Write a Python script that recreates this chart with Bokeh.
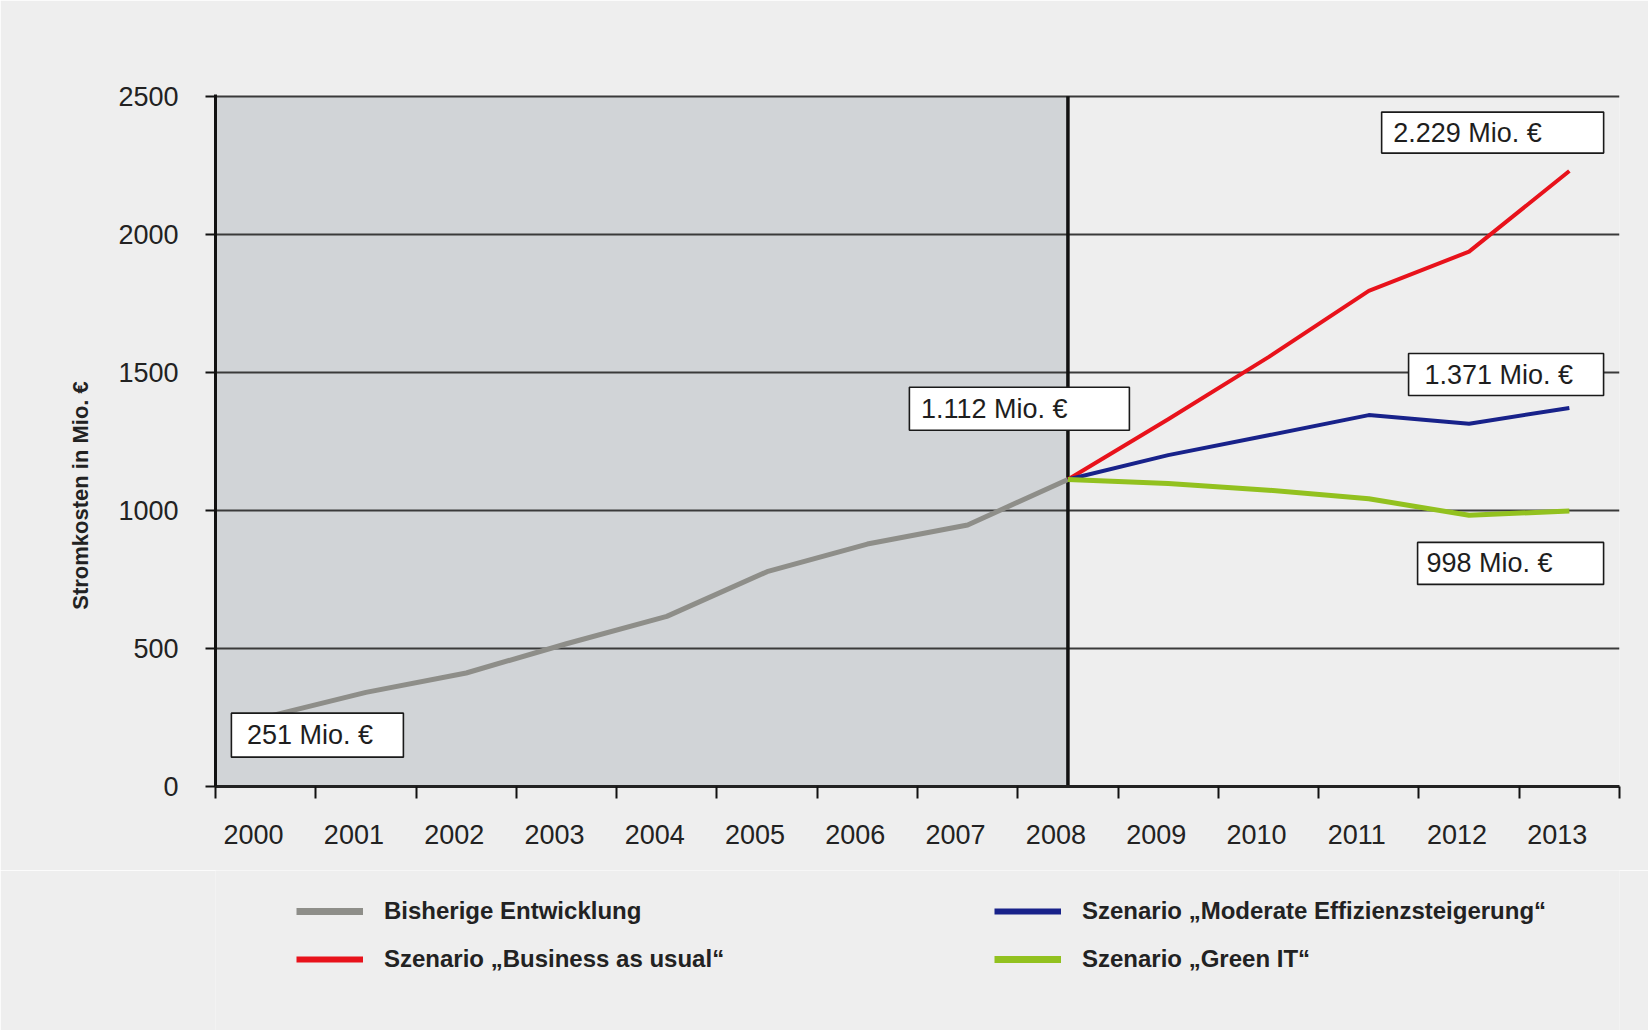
from bokeh.plotting import figure
from bokeh.layouts import column
from bokeh.models import FixedTicker, Legend, LegendItem, Range1d
from bokeh.core.properties import value
from bokeh.embed import file_html
from bokeh.resources import INLINE

# ---------------- data ----------------
years = [2000, 2001, 2002, 2003, 2004, 2005, 2006, 2007, 2008, 2009, 2010, 2011, 2012, 2013]
hist_years = [2000, 2001, 2002, 2003, 2004, 2005, 2006, 2007, 2008]
hist_values = [251, 341, 411, 517, 616, 778, 878, 947, 1112]
scen_years = [2008, 2009, 2010, 2011, 2012, 2013]
bau_values = [1112, 1330, 1555, 1795, 1937, 2229]
moderate_values = [1112, 1200, 1272, 1345, 1314, 1371]
green_values = [1112, 1097, 1073, 1042, 982, 998]
y_ticks = [0, 500, 1000, 1500, 2000, 2500]
tick_labels = [str(y) for y in years]
series_names = [
    "Bisherige Entwicklung",
    "Szenario \u201eBusiness as usual\u201c",
    "Szenario \u201eModerate Effizienzsteigerung\u201c",
    "Szenario \u201eGreen IT\u201c",
]
callout_texts = ["251 Mio. \u20ac", "1.112 Mio. \u20ac", "2.229 Mio. \u20ac", "1.371 Mio. \u20ac", "998 Mio. \u20ac"]
y_title = "Stromkosten in Mio. \u20ac"

# ---------------- layout / style ----------------
FONT = "Liberation Sans"
BG = "#eeeeee"
SHADE = "#d1d4d7"
C_HIST = "#8e8e89"
C_BAU = "#e8121b"
C_MOD = "#18228a"
C_GREEN = "#92c11f"
W = 1648
H_MAIN = 870
H_LEG = 1030 - H_MAIN

# callout boxes: centre (data units), size (px), text start (data x)
box_cx = [2000.516, 2007.516, 2012.235, 2012.369, 2012.414]
box_cy = [186, 1368, 2368, 1492, 808]
box_w = [172, 220, 222, 195, 186]
box_h = [44, 43, 41, 42, 42]
text_x = [1999.814, 2006.535, 2011.243, 2011.556, 2011.576]

x0 = years[0] - 0.5
x1 = years[-1] + 0.5

p = figure(
    width=W, height=H_MAIN,
    x_range=Range1d(x0, x1), y_range=Range1d(y_ticks[0], y_ticks[-1] + 6),
    output_backend="svg", toolbar_location=None,
    min_border_left=215, min_border_right=29, min_border_top=94, min_border_bottom=84,
    background_fill_color=BG, border_fill_color=BG, outline_line_color=None,
)

# shaded historical area
p.quad(left=[x0], right=[hist_years[-1]], bottom=[y_ticks[0]], top=[y_ticks[-1]],
       fill_color=SHADE, line_color=None, level="image")

# grid
p.xgrid.visible = False
p.ygrid.ticker = FixedTicker(ticks=y_ticks[1:])
p.ygrid.grid_line_color = "#3a3a3a"
p.ygrid.grid_line_width = 2

# vertical divider at 2008
p.segment(x0=[hist_years[-1]], y0=[y_ticks[0]], x1=[hist_years[-1]], y1=[y_ticks[-1]],
          line_color="#111111", line_width=3.5)

# series
line_styles = [(C_HIST, 5), (C_BAU, 4), (C_MOD, 4), (C_GREEN, 5)]
p.line(hist_years, hist_values, line_color=C_HIST, line_width=5, line_join="round")
p.line(scen_years, bau_values, line_color=C_BAU, line_width=4, line_join="round")
p.line(scen_years, moderate_values, line_color=C_MOD, line_width=4, line_join="round")
p.line(scen_years, green_values, line_color=C_GREEN, line_width=5, line_join="round")

# callout boxes
p.rect(x=box_cx, y=box_cy, width=box_w, height=box_h, width_units="screen", height_units="screen",
       fill_color="white", line_color="#1a1a1a", line_width=1.6)
p.text(x=text_x, y=box_cy, text=callout_texts, text_font=value(FONT), text_font_size="27px",
       text_baseline="middle", text_align="left", text_color="#1e1e1e")

# axes
p.yaxis.ticker = FixedTicker(ticks=y_ticks)
p.yaxis.major_tick_out = 10
p.yaxis.major_tick_in = 0
p.yaxis.minor_tick_out = 0
p.yaxis.minor_tick_in = 0
p.yaxis.major_tick_line_width = 2
p.yaxis.major_tick_line_color = "#111111"
p.yaxis.axis_line_width = 3
p.yaxis.axis_line_color = "#111111"
p.yaxis.major_label_standoff = 27
p.yaxis.major_label_text_font = FONT
p.yaxis.major_label_text_font_size = "27px"
p.yaxis.major_label_text_color = "#222222"
# title shifted downwards with trailing non-breaking spaces
p.yaxis.axis_label = y_title + "\u00a0" * 18
p.yaxis.axis_label_text_font = FONT
p.yaxis.axis_label_text_font_style = "bold"
p.yaxis.axis_label_text_font_size = "22px"
p.yaxis.axis_label_text_color = "#222222"
p.yaxis.axis_label_standoff = 22

label_pos = [y - 0.12 for y in years]
p.xaxis.ticker = FixedTicker(ticks=label_pos, minor_ticks=[y - 0.5 for y in years] + [x1])
p.xaxis.major_label_overrides = {pos: lab for pos, lab in zip(label_pos, tick_labels)}
p.xaxis.major_tick_out = 0
p.xaxis.major_tick_in = 0
p.xaxis.minor_tick_out = 12
p.xaxis.minor_tick_in = 0
p.xaxis.minor_tick_line_width = 2
p.xaxis.minor_tick_line_color = "#111111"
p.xaxis.axis_line_width = 3
p.xaxis.axis_line_color = "#222222"
p.xaxis.major_label_standoff = 26
p.xaxis.major_label_text_font = FONT
p.xaxis.major_label_text_font_size = "27px"
p.xaxis.major_label_text_color = "#222222"

# ---------------- legend strip ----------------
pl = figure(width=W, height=H_LEG, x_range=Range1d(0, 1), y_range=Range1d(0, 1),
            output_backend="svg", toolbar_location=None, x_axis_type=None, y_axis_type=None,
            min_border=0, background_fill_color=BG, border_fill_color=BG, outline_line_color=None)
pl.xgrid.visible = False
pl.ygrid.visible = False
nan = float("nan")
proxies = [pl.line(x=[nan], y=[nan], line_color=c, line_width=w + 2) for c, w in line_styles]

common = dict(orientation="vertical", glyph_width=67, glyph_height=32, label_height=32,
              label_standoff=21, spacing=16, padding=0, margin=0,
              background_fill_alpha=0, border_line_color=None,
              label_text_font=FONT, label_text_font_style="bold",
              label_text_font_size="24px", label_text_color="#222222")
# legend x positions are relative to the (aligned) frame left edge
leg1 = Legend(items=[LegendItem(label=series_names[0], renderers=[proxies[0]]),
                     LegendItem(label=series_names[1], renderers=[proxies[1]])],
              location=(81, 55), **common)
leg2 = Legend(items=[LegendItem(label=series_names[2], renderers=[proxies[2]]),
                     LegendItem(label=series_names[3], renderers=[proxies[3]])],
              location=(779, 55), **common)
pl.add_layout(leg1)
pl.add_layout(leg2)

layout = column(p, pl, spacing=0)
open("out.html", "w").write(file_html(layout, INLINE))
